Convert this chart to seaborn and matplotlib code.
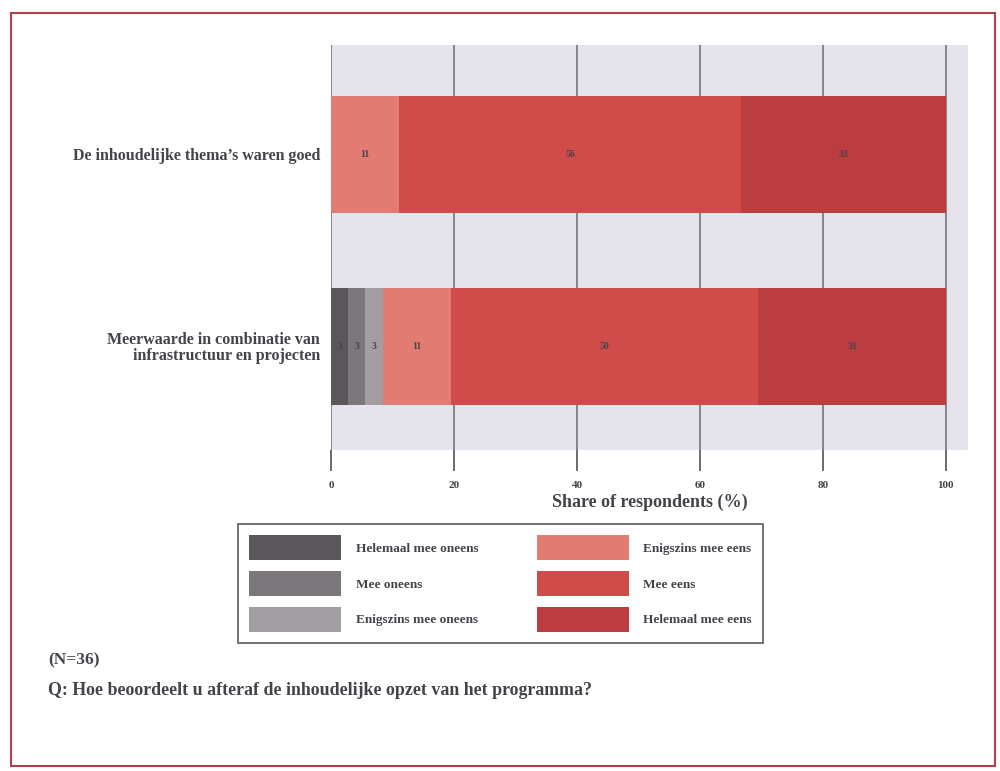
import numpy as np
import pandas as pd
import matplotlib
matplotlib.use("Agg")
import matplotlib.pyplot as plt
from matplotlib.patches import Patch, Rectangle
import seaborn as sns

# ── Data (share of respondents, N=36) ─────────────────────────────────────────
STATEMENTS = [
    "De inhoudelijke thema\u2019s waren goed",
    "Meerwaarde in combinatie van\ninfrastructuur en projecten",
]
CATEGORIES = [
    "Helemaal mee oneens", "Mee oneens", "Enigszins mee oneens",
    "Enigszins mee eens", "Mee eens", "Helemaal mee eens",
]
THEMAS_GOED = [0.0, 0.0, 0.0, 11.1, 55.6, 33.3]
MEERWAARDE = [2.8, 2.8, 2.8, 11.1, 50.0, 30.6]
LABELS_THEMAS = ["", "", "", "11", "56", "33"]
LABELS_MEERWAARDE = ["3", "3", "3", "11", "50", "31"]
X_TICKS = [0, 20, 40, 60, 80, 100]

COLORS = ["#5b5659", "#7b777a", "#a19da2", "#e27c72", "#cf4c4b", "#bc3d40"]
SERIF = ["Liberation Serif", "DejaVu Serif"]
TEXT_COL = "#46424a"

sns.set_theme(style="white")
plt.rcParams["font.family"] = SERIF
plt.rcParams["font.weight"] = "bold"
plt.rcParams["axes.labelweight"] = "bold"

values = np.array([THEMAS_GOED, MEERWAARDE])
cum = values.cumsum(axis=1)
df = pd.DataFrame({
    "statement": np.repeat(STATEMENTS, len(CATEGORIES)),
    "category": CATEGORIES * len(STATEMENTS),
    "value": values.ravel(),
    "cum": cum.ravel(),
})

fig = plt.figure(figsize=(10, 7.71), dpi=100)
ax = fig.add_axes([0.331, 0.4163, 0.637, 0.5254])
ax.set_facecolor("#e5e4ec")

# stacked bars: draw the cumulative totals from right to left
for i in reversed(range(len(CATEGORIES))):
    sub = df[df["category"] == CATEGORIES[i]]
    sns.barplot(data=sub, x="cum", y="statement", orient="h",
                color=COLORS[i], saturation=1, width=0.61,
                order=STATEMENTS, ax=ax, zorder=3,
                edgecolor="none", linewidth=0)

# segment labels
for row, labels in enumerate([LABELS_THEMAS, LABELS_MEERWAARDE]):
    for j, lab in enumerate(labels):
        if lab:
            mid = cum[row, j] - values[row, j] / 2
            ax.text(mid, row, lab, ha="center", va="center",
                    fontsize=7, color=TEXT_COL, zorder=4)

ax.set_xlim(0, 103.6)
ax.set_ylim(1.54, -0.57)
ax.set_xticks(X_TICKS)
ax.set_xticklabels([str(t) for t in X_TICKS], fontsize=8, color=TEXT_COL)
ax.tick_params(axis="x", bottom=True, length=15, width=1.2,
               color="#555055", pad=7, direction="out")
ax.tick_params(axis="y", length=0, pad=8, labelsize=11.5, labelcolor=TEXT_COL)
ax.xaxis.grid(True, color="#777377", linewidth=1.2, zorder=1)
ax.set_axisbelow(True)
for s in ax.spines.values():
    s.set_visible(False)
ax.set_ylabel("")
ax.set_xlabel("Share of respondents (%)", fontsize=13, color=TEXT_COL,
              labelpad=3)
for lab in ax.get_yticklabels():
    lab.set_multialignment("right")
    lab.set_linespacing(0.95)

# legend
handles = [Patch(facecolor=c, edgecolor="none", label=n)
           for c, n in zip(COLORS, CATEGORIES)]
leg = fig.legend(handles=handles, ncol=2, loc="center",
                 bbox_to_anchor=(0.5005, 0.2432),
                 frameon=True, fontsize=9.5, handlelength=7.0,
                 handleheight=2.5, columnspacing=4.4, labelspacing=0.85,
                 handletextpad=1.1, borderpad=0.85, fancybox=False,
                 edgecolor="#444044")
leg.get_frame().set_linewidth(1.3)
for t in leg.get_texts():
    t.set_color(TEXT_COL)

# notes
fig.text(0.048, 0.143, "(N=36)", fontsize=12.5, color=TEXT_COL, va="center")
fig.text(0.048, 0.104,
         "Q: Hoe beoordeelt u afteraf de inhoudelijke opzet van het programma?",
         fontsize=12.9, color=TEXT_COL, va="center")

# outer frame
fig.patches.append(Rectangle((0.011, 0.006), 0.984, 0.977,
                             transform=fig.transFigure, fill=False,
                             edgecolor="#b0404c", linewidth=1.5))

fig.savefig("out.png", dpi=100)
